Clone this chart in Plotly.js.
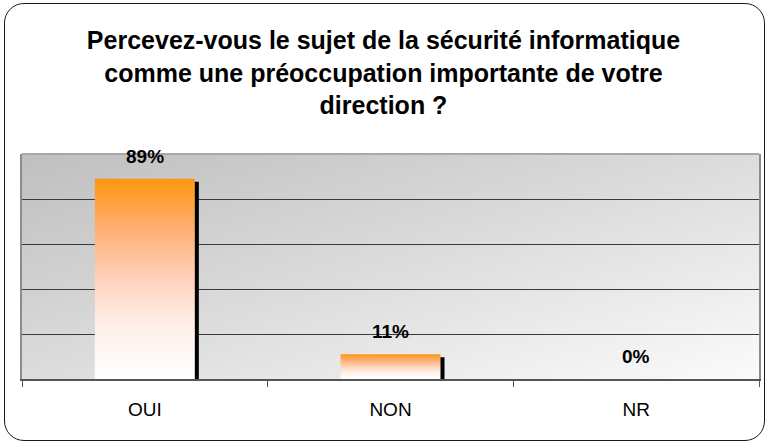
<!DOCTYPE html>
<html><head><meta charset="utf-8">
<script src="https://cdn.plot.ly/plotly-3.0.1.min.js"></script>
<style>
html,body{margin:0;padding:0;background:#fff;}
#wrap{position:relative;width:767px;height:443px;overflow:hidden;}
#frame{position:absolute;left:4px;top:3px;width:761px;height:438px;border:1.5px solid #1a1a1a;border-radius:20px;pointer-events:none;box-sizing:border-box;}
</style>
</head><body>
<div id="wrap"><div id="chart" style="width:767px;height:443px"></div><div id="frame"></div></div>
<script>
const categories = ['OUI', 'NON', 'NR'];
const values = [89, 11, 0];
const valueLabels = ['89%', '11%', '0%'];
const titleText = 'Percevez-vous le sujet de la sécurité informatique<br>comme une préoccupation importante de votre<br>direction ?';

const FONT = 'Liberation Sans, Arial, Helvetica, sans-serif';
const W = 767, H = 443;
const M = {l: 22, r: 8, t: 154, b: 64};
const catPx = (W - M.l - M.r) / categories.length;
const barW = 100 / catPx;
const shadowShift = 4 / catPx;

const bgSvg = '<svg xmlns="http://www.w3.org/2000/svg" width="737" height="225" viewBox="0 0 737 225" preserveAspectRatio="none">' +
  '<defs><linearGradient id="g" x1="0" y1="0" x2="1" y2="1">' +
  '<stop offset="0" stop-color="#bfbfbf"/><stop offset="0.5" stop-color="#dcdcdc"/><stop offset="1" stop-color="#fbfbfb"/>' +
  '</linearGradient></defs><rect width="737" height="225" fill="url(#g)"/></svg>';

const shadow = {
  type: 'bar', x: categories, y: values,
  width: barW, offset: -barW / 2 + shadowShift,
  marker: {color: '#000000', line: {width: 0}},
  hoverinfo: 'skip', showlegend: false
};
const main = {
  type: 'bar', x: categories, y: values,
  width: barW, offset: -barW / 2,
  marker: {color: '#ffb060', line: {width: 0}},
  showlegend: false
};

const annotations = categories.map((c, i) => ({
  x: c, y: values[i], xref: 'x', yref: 'y',
  text: valueLabels[i], showarrow: false,
  yanchor: 'bottom', yshift: 10,
  font: {family: FONT, size: 19, color: '#000', weight: 'bold'}
}));

const layout = {
  width: W, height: H,
  margin: M,
  paper_bgcolor: 'rgba(0,0,0,0)',
  plot_bgcolor: 'rgba(0,0,0,0)',
  barmode: 'overlay',
  font: {family: FONT, color: '#000'},
  title: {
    text: titleText,
    font: {family: FONT, size: 25, color: '#000', weight: 'bold'},
    x: 0.5, xref: 'container', xanchor: 'center',
    y: 1 - 49 / H, yref: 'container', yanchor: 'top'
  },
  xaxis: {
    type: 'category',
    tickson: 'boundaries',
    ticks: 'outside', ticklen: 6, tickwidth: 1, tickcolor: '#555',
    showline: true, linecolor: '#555', linewidth: 2,
    showgrid: false,
    tickfont: {family: FONT, size: 19, color: '#000'},
    ticklabelstandoff: 12,
    fixedrange: true
  },
  yaxis: {
    range: [0, 100], dtick: 20, tick0: 0,
    showticklabels: false, ticks: '',
    showgrid: true, gridcolor: '#3a3a3a', gridwidth: 1,
    zeroline: false,
    showline: true, linecolor: '#8c8c8c', linewidth: 2, mirror: true,
    fixedrange: true
  },
  images: [{
    source: 'data:image/svg+xml;charset=utf-8,' + encodeURIComponent(bgSvg),
    xref: 'x domain', yref: 'y domain', x: 0, y: 1, sizex: 1, sizey: 1,
    xanchor: 'left', yanchor: 'top', sizing: 'stretch', layer: 'below'
  }],
  shapes: [{
    type: 'line', xref: 'x domain', yref: 'y domain', x0: 0, x1: 1, y0: 1, y1: 1,
    line: {color: '#a8a8a8', width: 2}, layer: 'above'
  }],
  annotations: annotations
};

Plotly.newPlot('chart', [shadow, main], layout, {displayModeBar: false, staticPlot: true}).then(gd => {
  const svg = gd.querySelector('.main-svg');
  let defs = svg.querySelector('defs');
  const ns = 'http://www.w3.org/2000/svg';
  const lg = document.createElementNS(ns, 'linearGradient');
  lg.setAttribute('id', 'barGrad');
  lg.setAttribute('x1', '0'); lg.setAttribute('y1', '0');
  lg.setAttribute('x2', '0'); lg.setAttribute('y2', '1');
  [['0', '#ff960e'], ['0.25', '#feaf72'], ['0.5', '#fdd2bc'], ['0.75', '#fff1ea'], ['1', '#ffffff']].forEach(s => {
    const st = document.createElementNS(ns, 'stop');
    st.setAttribute('offset', s[0]); st.setAttribute('stop-color', s[1]);
    lg.appendChild(st);
  });
  defs.appendChild(lg);
  const traces = gd.querySelectorAll('.barlayer .trace');
  if (traces[1]) traces[1].querySelectorAll('path').forEach(p => { p.style.fill = 'url(#barGrad)'; });
  if (traces[0]) traces[0].querySelectorAll('path').forEach(p => { p.setAttribute('transform', 'translate(0,3)'); });
});
</script>
</body></html>
